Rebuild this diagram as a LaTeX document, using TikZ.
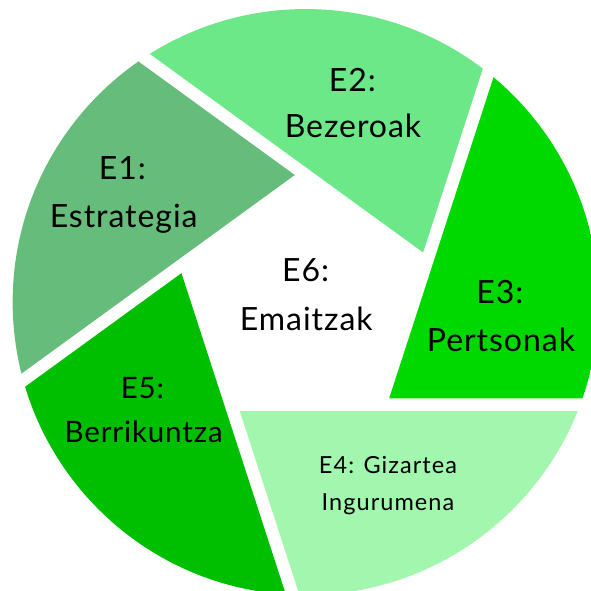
\documentclass[tikz,border=0pt]{standalone}
\usepackage{fontspec}
\setmainfont{Lato}
\definecolor{cA}{HTML}{66BD7B}
\definecolor{cB}{HTML}{6CE888}
\definecolor{cC}{HTML}{00D900}
\definecolor{cD}{HTML}{A2F6AE}
\definecolor{cE}{HTML}{00BE00}
\tikzset{
  big/.style={anchor=base, inner sep=0pt, font=\fontsize{32}{40}\selectfont\addfontfeatures{LetterSpace=3}},
  mid/.style={anchor=base, inner sep=0pt, font=\fontsize{29.5}{36}\selectfont\addfontfeatures{LetterSpace=3}},
  small/.style={anchor=base, inner sep=0pt, font=\fontsize{23.5}{28}\selectfont\addfontfeatures{LetterSpace=4.5}}
}
\begin{document}
\begin{tikzpicture}[x=1pt,y=1pt]
\useasboundingbox (-305.66,-288.94) rectangle (285.34,302.06);
\clip (-305.66,-288.94) rectangle (285.34,302.06);
\begin{scope}
  \clip (0,0) circle (293);
  \foreach \t/\c in {144/cA,72/cB,0/cC,-72/cD,-144/cE} {
    \begin{scope}[shift={(\t-49.1:127.5)}]
      \fill[\c] (0,0) -- (\t:700) -- (\t+72:700) -- cycle;
    \end{scope}
  }
\end{scope}
\node[big] (e1a) at (-183.2,122.1) {E1:};
\node[big] (e1b) at (-182.0,74.1) {Estrategia};
\node[big] (e2a) at (46.8,210.1) {E2:};
\node[big] (e2b) at (47.3,164.1) {Bezeroak};
\node[big] (e3a) at (194.3,-1.9) {E3:};
\node[big] (e3b) at (195.3,-49.9) {Pertsonak};
\node[small] (e4a) at (82.3,-171.6) {E4: Gizartea};
\node[small] (e4b) at (82.3,-208.9) {Ingurumena};
\node[mid] (e5a) at (-163.2,-96.2) {E5:};
\node[mid] (e5b) at (-162.0,-140.6) {Berrikuntza};
\node[big] (e6a) at (0,20.4) {E6:};
\node[big] (e6b) at (0.6,-28.6) {Emaitzak};
\end{tikzpicture}
\end{document}
